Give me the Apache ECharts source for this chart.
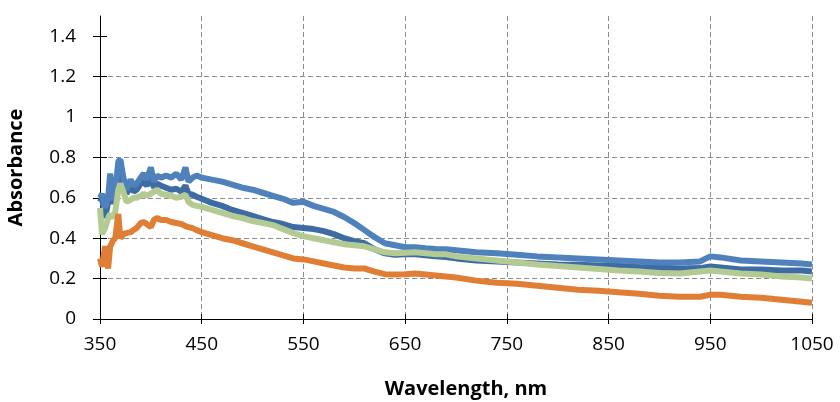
<!DOCTYPE html>
<html lang="en">
<head>
    <meta charset="utf-8">
    <title>Absorbance</title>
    <style>
        html, body { margin: 0; padding: 0; background: #fff; }
        #chart { width: 840px; height: 402px; }
    </style>
</head>
<body>
<div id="chart"></div>
<script type="text/javascript" src="https://cdn.jsdelivr.net/npm/echarts@6/dist/echarts.min.js"></script>
<script type="text/javascript">
// wavelength (nm)
var wavelength = [350,352,355,358,360,363,365,368,370,373,376,380,383,386,390,393,396,400,403,406,410,415,420,425,430,434,437,441,445,450,
    460,470,480,490,500,510,520,530,540,550,560,570,580,590,600,610,620,630,640,650,660,670,680,690,700,
    720,740,760,780,800,820,840,860,880,900,920,940,950,960,980,1000,1020,1040,1050];

var lightBlue = [0.60,0.62,0.55,0.60,0.72,0.59,0.63,0.78,0.79,0.70,0.64,0.69,0.66,0.67,0.70,0.72,0.69,0.75,0.68,0.71,0.70,0.71,0.70,0.72,0.69,0.75,0.68,0.70,0.71,0.70,
    0.69,0.68,0.665,0.65,0.64,0.625,0.61,0.595,0.575,0.58,0.56,0.545,0.53,0.505,0.475,0.44,0.405,0.375,0.365,0.355,0.355,0.35,0.347,0.345,0.34,
    0.33,0.325,0.318,0.31,0.305,0.30,0.295,0.29,0.285,0.28,0.28,0.285,0.31,0.305,0.29,0.285,0.28,0.275,0.27];

var darkBlue = [0.58,0.60,0.50,0.58,0.66,0.57,0.60,0.72,0.74,0.66,0.62,0.66,0.63,0.64,0.67,0.68,0.66,0.70,0.65,0.67,0.66,0.65,0.64,0.645,0.63,0.66,0.62,0.615,0.605,0.595,
    0.575,0.56,0.54,0.525,0.51,0.495,0.48,0.47,0.455,0.45,0.445,0.435,0.42,0.40,0.385,0.375,0.345,0.325,0.318,0.32,0.32,0.315,0.31,0.307,0.30,
    0.29,0.285,0.28,0.275,0.27,0.268,0.265,0.262,0.258,0.255,0.25,0.252,0.26,0.255,0.245,0.245,0.24,0.24,0.235];

var green = [0.55,0.42,0.45,0.50,0.52,0.50,0.53,0.64,0.67,0.63,0.58,0.59,0.60,0.60,0.61,0.62,0.61,0.62,0.63,0.64,0.62,0.615,0.61,0.60,0.605,0.615,0.58,0.565,0.56,0.555,
    0.54,0.525,0.51,0.50,0.485,0.475,0.465,0.445,0.425,0.41,0.40,0.39,0.38,0.37,0.365,0.36,0.345,0.33,0.325,0.328,0.33,0.325,0.32,0.32,0.31,
    0.30,0.29,0.28,0.27,0.262,0.255,0.248,0.24,0.235,0.228,0.225,0.235,0.24,0.235,0.225,0.22,0.21,0.205,0.20];

var orange = [0.30,0.26,0.36,0.25,0.36,0.39,0.40,0.52,0.40,0.42,0.425,0.43,0.44,0.45,0.475,0.48,0.47,0.455,0.49,0.50,0.49,0.49,0.48,0.475,0.47,0.46,0.455,0.45,0.44,0.43,
    0.415,0.40,0.39,0.375,0.36,0.345,0.33,0.315,0.30,0.295,0.285,0.275,0.265,0.255,0.25,0.25,0.235,0.222,0.22,0.222,0.225,0.22,0.215,0.21,0.205,
    0.19,0.18,0.175,0.165,0.155,0.145,0.14,0.132,0.125,0.115,0.11,0.11,0.12,0.12,0.11,0.105,0.095,0.085,0.08];

var yTicks = [0, 0.2, 0.4, 0.6, 0.8, 1, 1.2, 1.4];

function pairs(ys) {
    var out = [];
    for (var i = 0; i < wavelength.length; i++) {
        out.push([wavelength[i], ys[i]]);
    }
    return out;
}

function line(name, color, ys) {
    return {
        name: name, type: 'line', data: pairs(ys),
        showSymbol: false, smooth: false,
        lineStyle: { color: color, width: 6 },
        itemStyle: { color: color }
    };
}

var font = '"Open Sans", "Liberation Sans", sans-serif';
var grid = '#8c8c8c';

var myChart = echarts.init(document.getElementById('chart'));
var option = {
    animation: false,
    backgroundColor: '#fff',
    grid: { left: 100, right: 28, top: 16, bottom: 83, outerBoundsMode: 'none' },
    xAxis: [{
        type: 'value', min: 350, max: 1050, interval: 100,
        name: 'Wavelength, nm', nameLocation: 'middle', nameGap: 60,
        nameTextStyle: { fontFamily: font, fontSize: 20, fontWeight: 'bold', color: '#000', padding: [0, 0, 0, 20] },
        axisLine: { lineStyle: { color: '#000', width: 1 } },
        axisTick: { length: 5, lineStyle: { color: '#000' } },
        axisLabel: { fontFamily: font, fontSize: 19, color: '#000', margin: 16,
            formatter: function (v) { return String(v); } },
        splitLine: { show: true, lineStyle: { color: grid, type: [5, 3] } }
    }, {
        type: 'value', min: 350, max: 1050, interval: 100, position: 'bottom',
        axisLine: { show: false },
        axisTick: { inside: true, length: 5, lineStyle: { color: '#000' } },
        axisLabel: { show: false }, splitLine: { show: false }
    }],
    yAxis: [{
        type: 'value', min: 0, max: 1.5, interval: 0.2,
        name: 'Absorbance', nameLocation: 'middle', nameGap: 74,
        nameTextStyle: { fontFamily: font, fontSize: 20, fontWeight: 'bold', color: '#000' },
        axisLine: { show: true, lineStyle: { color: '#000', width: 1 } },
        axisTick: { show: true, length: 7, customValues: yTicks, lineStyle: { color: '#000' } },
        axisLabel: { fontFamily: font, fontSize: 19, color: '#000', margin: 24,
            customValues: yTicks, formatter: function (v) { return String(v); } },
        splitLine: { show: true, showMaxLine: false, lineStyle: { color: grid, type: [5, 3] } }
    }, {
        type: 'value', min: 0, max: 1.5, interval: 0.2, position: 'left',
        axisLine: { show: false },
        axisTick: { show: true, inside: true, length: 7, customValues: yTicks, lineStyle: { color: '#000' } },
        axisLabel: { show: false }, splitLine: { show: false }
    }],
    series: [
        line('Dark blue', '#3d6ba3', darkBlue),
        line('Light blue', '#4f81bd', lightBlue),
        line('Green', '#b3cb93', green),
        line('Orange', '#e07e36', orange)
    ]
};
myChart.setOption(option);

window.addEventListener('resize', function () {
    myChart.resize();
});
</script>
</body>
</html>
